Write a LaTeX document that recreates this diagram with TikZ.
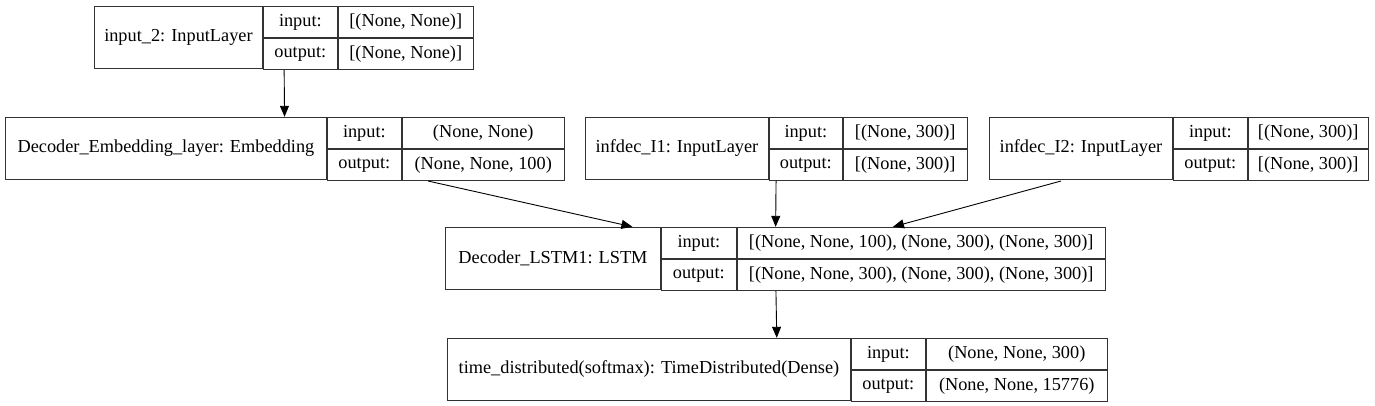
\documentclass[tikz,border=0pt]{standalone}
\usepackage{fontspec}
\setmainfont{Liberation Serif}
\usetikzlibrary{positioning,fit,arrows.meta}
\begin{document}
\begin{tikzpicture}[x=1pt, y=-1pt, >={Triangle[length=11pt,width=9pt]},
    every node/.style={font=\fontsize{18.3}{20}\selectfont, inner sep=0pt},
    title/.style={draw=black!80, line width=0.9pt, minimum height=62pt, anchor=north west},
    cell/.style={draw=black!80, line width=0.9pt, minimum height=31pt, anchor=north west},
    record/.style={inner sep=0pt},
    link/.style={->, line width=0.9pt}]
  \useasboundingbox (0,0) rectangle (1375,405);
  % input_2
  \node[title, minimum width=168pt] (int) at (94,6) {input\_2: InputLayer};
  \node[cell, minimum width=74pt] (ini) at (int.north east) {input:};
  \node[cell, minimum width=74pt] (ino) at (ini.south west) {output:};
  \node[cell, minimum width=135pt] (iniv) at (ini.north east) {[(None, None)]};
  \node[cell, minimum width=135pt] (inov) at (iniv.south west) {[(None, None)]};
  \node[record, fit=(int)(inov)] (inp) {};
  % Decoder_Embedding_layer
  \node[title, minimum width=321pt] (embt) at (5,117) {Decoder\_Embedding\_layer: Embedding};
  \node[cell, minimum width=74pt] (embi) at (embt.north east) {input:};
  \node[cell, minimum width=74pt] (embo) at (embi.south west) {output:};
  \node[cell, minimum width=162pt] (embiv) at (embi.north east) {(None, None)};
  \node[cell, minimum width=162pt] (embov) at (embiv.south west) {(None, None, 100)};
  \node[record, fit=(embt)(embov)] (emb) {};
  % infdec_I1
  \node[title, minimum width=183pt] (ionet) at (585,117) {infdec\_I1: InputLayer};
  \node[cell, minimum width=73pt] (ionei) at (ionet.north east) {input:};
  \node[cell, minimum width=73pt] (ioneo) at (ionei.south west) {output:};
  \node[cell, minimum width=124pt] (ioneiv) at (ionei.north east) {[(None, 300)]};
  \node[cell, minimum width=124pt] (ioneov) at (ioneiv.south west) {[(None, 300)]};
  \node[record, fit=(ionet)(ioneov)] (ione) {};
  % infdec_I2
  \node[title, minimum width=183pt] (itwot) at (989,117) {infdec\_I2: InputLayer};
  \node[cell, minimum width=74pt] (itwoi) at (itwot.north east) {input:};
  \node[cell, minimum width=74pt] (itwoo) at (itwoi.south west) {output:};
  \node[cell, minimum width=120pt] (itwoiv) at (itwoi.north east) {[(None, 300)]};
  \node[cell, minimum width=120pt] (itwoov) at (itwoiv.south west) {[(None, 300)]};
  \node[record, fit=(itwot)(itwoov)] (itwo) {};
  % Decoder_LSTM1
  \node[title, minimum width=215pt] (lstmt) at (445,227) {Decoder\_LSTM1: LSTM};
  \node[cell, minimum width=75pt] (lstmi) at (lstmt.north east) {input:};
  \node[cell, minimum width=75pt] (lstmo) at (lstmi.south west) {output:};
  \node[cell, minimum width=368pt] (lstmiv) at (lstmi.north east) {[(None, None, 100), (None, 300), (None, 300)]};
  \node[cell, minimum width=368pt] (lstmov) at (lstmiv.south west) {[(None, None, 300), (None, 300), (None, 300)]};
  \node[record, fit=(lstmt)(lstmov)] (lstm) {};
  % time_distributed
  \node[title, minimum width=403pt] (tdt) at (447,338) {time\_distributed(softmax): TimeDistributed(Dense)};
  \node[cell, minimum width=74pt] (tdi) at (tdt.north east) {input:};
  \node[cell, minimum width=74pt] (tdo) at (tdi.south west) {output:};
  \node[cell, minimum width=181pt] (tdiv) at (tdi.north east) {(None, None, 300)};
  \node[cell, minimum width=181pt] (tdov) at (tdiv.south west) {(None, None, 15776)};
  \node[record, fit=(tdt)(tdov)] (td) {};
  % edges
  \draw[link] (inp) -- (emb);
  \draw[link] (emb) -- (lstm);
  \draw[link] (ione) -- (lstm);
  \draw[link] (itwo) -- (lstm);
  \draw[link] (lstm) -- (td);
\end{tikzpicture}
\end{document}
